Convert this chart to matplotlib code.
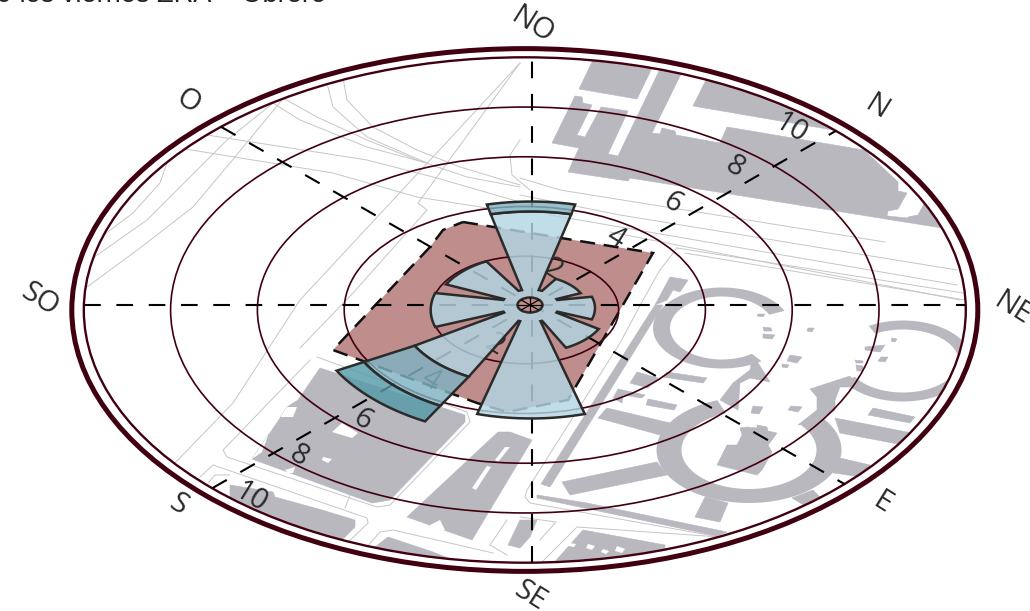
import numpy as np
import matplotlib
matplotlib.use('Agg')
import matplotlib.pyplot as plt
from matplotlib.colors import to_rgba
from matplotlib.patches import Polygon, Ellipse

# -----------------
#    Wind rose data
# -----------------
directions = ['NO', 'N', 'NE', 'E', 'SE', 'S', 'SO', 'O']
calm_limit = 0.50
band_low = [3.80, 1.13, 1.32, 1.60, 4.20, 2.88, 2.15, 2.05]
band_mid = [0.40, 0.00, 0.00, 0.00, 0.00, 1.34, 0.00, 0.00]
band_high = [0.00, 0.00, 0.00, 0.00, 0.00, 0.72, 0.00, 0.00]
ring_values = [2, 4, 6, 8, 10]
tick_text = ['2', '4', '6', '8', '10']

title_text = '9 los viernes ZRA -  Obrero'
dir_label_xy = [(532, 25), (876, 107), (1012, 309), (882, 503),
                (530, 596), (178, 505), (40, 300), (188, 102)]
tick_xy_up = [(553, 270), (615, 238), (672, 203), (735, 167), (790, 128)]
tick_xy_down = [(495, 345), (430, 380), (362, 420), (299, 456), (250, 497)]

# ellipse that a flat circle turns into
ring_cx, ring_cy = 524.8, 310.0
petal_cx, petal_cy = 531.0, 310.0
hub_cx, hub_cy = 530.0, 304.0
squash = 0.573
spoke_cx, spoke_cy = 532.0, 305.0
petal_narrow = [0.82, 1, 1, 1, 1, 1, 1, 1]


def speed_to_r(v):
    return 7 + 43.4 * np.asarray(v, dtype=float)


def petal_arc(centre, v, narrow, reverse=False):
    # one edge of a petal, the petal gets wider a bit slower than a true sector
    r = float(speed_to_r(v))
    half = np.arcsin(min((0.272 * r + 2.35) / r * narrow, 0.9))
    th = np.linspace(centre - half, centre + half, 50)
    if reverse:
        th = th[::-1]
    w = min(r / 94.0, 1.0)
    cx = hub_cx + (petal_cx - hub_cx) * w
    cy = hub_cy + (petal_cy - hub_cy) * w
    return np.column_stack([cx + r * np.sin(th), cy - squash * r * np.cos(th)])


# -----------------
#    Map background
# -----------------
grey = '#bab8bf'
buildings = [
    [(593, 60), (652, 68), (637, 99), (579, 89)],
    [(575, 96), (582, 97), (583, 103), (592, 105), (577, 135), (585, 137), (601, 107), (628, 111),
     (608, 154), (618, 156), (660, 69), (681, 74), (652, 133), (660, 134), (662, 128), (675, 131),
     (676, 135), (720, 143), (727, 127), (864, 150), (898, 182), (898, 191), (907, 193), (898, 209),
     (888, 211), (887, 216), (908, 218), (908, 217), (918, 215), (924, 204), (942, 228), (630, 178),
     (628, 181), (568, 172), (579, 148), (552, 143)],
    [(707, 78), (760, 80), (860, 133), (833, 130), (693, 106)],
    [(670, 277), (688, 280), (680, 292), (673, 290), (667, 300), (655, 305)],
    [(655, 305), (663, 305), (550, 487), (541, 484)],
    [(537, 495), (587, 503), (727, 532), (717, 536), (537, 498)],
    [(598, 418), (607, 408), (670, 423), (660, 435)],
    [(562, 482), (657, 462), (667, 475), (570, 495)],
    [(705, 497), (728, 503), (720, 522), (695, 517)],
    [(792, 498), (813, 490), (820, 497), (807, 507)],
    [(840, 458), (870, 465), (860, 477), (828, 472)],
    [(835, 418), (912, 433), (903, 445), (840, 433)],
    [(810, 389), (850, 376), (857, 387), (840, 387), (835, 400), (835, 410), (817, 423), (798, 425),
     (817, 410), (817, 397)],
    [(753, 355), (770, 382), (750, 378), (740, 383), (738, 410), (720, 400), (733, 383), (750, 370)],
    [(740, 428), (747, 427), (757, 428), (757, 425), (767, 427), (768, 431), (777, 433), (772, 440),
     (768, 445), (772, 452), (762, 470), (757, 475), (717, 465), (727, 445), (737, 445), (742, 435)],
    [(637, 372), (658, 378), (648, 388), (630, 383)],
    [(667, 372), (707, 378), (703, 383), (663, 377)],
    [(618, 389), (645, 395), (642, 398), (623, 395), (622, 403), (613, 398)],
    [(648, 399), (677, 405), (674, 410), (646, 405)],
    [(873, 408), (915, 417), (910, 423), (868, 415)],
    [(753, 406), (763, 407), (759, 414), (751, 413)],
    [(791, 406), (802, 407), (798, 412), (788, 410)],
    [(790, 355), (802, 357), (797, 363), (787, 361)],
    [(782, 364), (789, 365), (787, 368), (782, 367)],
    [(763, 327), (771, 328), (772, 331), (764, 331)],
    [(763, 334), (775, 335), (772, 339), (763, 338)],
    [(758, 314), (765, 314), (763, 317), (757, 316)],
    [(808, 328), (814, 328), (812, 332), (807, 331)],
    [(865, 347), (885, 345), (880, 352), (865, 350)],
    [(881, 357), (888, 357), (885, 362), (878, 361)],
    [(855, 360), (863, 361), (863, 363), (856, 363)],
    [(856, 365), (863, 366), (863, 371), (857, 371)],
    [(892, 338), (897, 339), (895, 342), (891, 341)],
    [(552, 565), (583, 530), (665, 545), (665, 575), (552, 575)],
    [(407, 517), (498, 432), (510, 432), (532, 440), (472, 540)],
    [(508, 545), (520, 520), (537, 520), (530, 537), (520, 548)],
    [(320, 368), (465, 415), (465, 422), (390, 500), (372, 503), (252, 459), (287, 407), (298, 400)],
    [(230, 485), (273, 492), (275, 497), (322, 510), (355, 520), (355, 527), (342, 540), (303, 530),
     (230, 497)],
    [(375, 547), (388, 537), (433, 552), (453, 560), (430, 570)],
]
map_holes = [
    [(287, 407), (297, 407), (293, 417), (275, 417), (262, 452), (252, 459)],
    [(332, 432), (342, 423), (358, 433), (352, 438)],
    [(323, 457), (332, 459), (328, 463), (322, 460)],
    [(285, 470), (295, 467), (293, 473), (288, 473)],
    [(570, 543), (576, 544), (574, 547), (568, 546)],
    [(588, 544), (595, 546), (592, 550), (586, 548)],
    [(603, 549), (609, 551), (606, 554), (601, 552)],
    [(617, 546), (625, 549), (622, 553), (615, 551)],
    [(505, 447), (510, 447), (498, 462), (495, 460)],
    [(487, 466), (491, 467), (476, 490), (472, 488)],
    [(430, 525), (440, 520), (445, 530), (435, 532)],
]
# streets, kerbs, roof edges
map_lines = [
    [(87, 287), (140, 248), (193, 207), (230, 163), (282, 100)],
    [(93, 258), (147, 220), (197, 170), (227, 140), (277, 100)],
    [(93, 243), (133, 213), (160, 183), (167, 163), (160, 157)],
    [(207, 135), (367, 160), (433, 177), (520, 202)],
    [(185, 149), (333, 173), (417, 197), (487, 208)],
    [(273, 103), (300, 120), (367, 147), (427, 163)],
    [(283, 98), (317, 117), (367, 140), (417, 160), (467, 177), (520, 187)],
    [(327, 83), (333, 107), (367, 137), (427, 163)],
    [(343, 78), (347, 100), (373, 127), (417, 150), (460, 167), (520, 185)],
    [(175, 463), (233, 403), (300, 300), (433, 157), (520, 63)],
    [(520, 63), (418, 203), (427, 210), (353, 293), (300, 348)],
    [(520, 178), (560, 190), (885, 242)],
    [(520, 195), (620, 215), (957, 270)],
    [(550, 215), (957, 285)],
    [(610, 232), (960, 300)],
    [(677, 248), (963, 293)],
    [(685, 253), (965, 300)],
    [(677, 248), (660, 270), (643, 300), (620, 343), (527, 490), (525, 497), (530, 503), (720, 537)],
    [(317, 357), (467, 412), (470, 422), (390, 505), (377, 507), (227, 457), (223, 450), (310, 360)],
    [(200, 477), (213, 465), (367, 518), (368, 523), (343, 547)],
    [(208, 483), (215, 475), (230, 475)],
    [(367, 547), (380, 532), (393, 530), (493, 553)],
    [(542, 562), (577, 527), (720, 537)],
    [(507, 555), (490, 545), (507, 520)],
    [(520, 517), (556, 522), (540, 540)],
    [(300, 420), (380, 445), (345, 482), (352, 490), (345, 508)],
    [(520, 140), (510, 155), (512, 175), (530, 190)],
    [(357, 420), (388, 432), (407, 423), (388, 412)],
    [(300, 443), (320, 437), (345, 447)],
]


def annulus(cx, cy, rx, ry, wx, wy, t0, t1):
    t = np.radians(np.linspace(t0, t1, 90))
    outer = np.column_stack([cx + (rx + wx / 2) * np.cos(t), cy + (ry + wy / 2) * np.sin(t)])
    inner = np.column_stack([cx + (rx - wx / 2) * np.cos(t), cy + (ry - wy / 2) * np.sin(t)])
    return np.vstack([outer, inner[::-1]])


fig = plt.figure(figsize=(10.3, 6.11), dpi=100)
ax = fig.add_axes([0, 0, 1, 1])
ax.set_xlim(0, 1030)
ax.set_ylim(611, 0)
ax.axis('off')

ring_r = speed_to_r(ring_values)
clip = Ellipse((ring_cx, ring_cy), 2 * ring_r[-1], 2 * squash * ring_r[-1], transform=ax.transData,
               facecolor='none', edgecolor='none')
ax.add_patch(clip)

for pts in map_lines:
    pts = np.array(pts)
    ln, = ax.plot(pts[:, 0], pts[:, 1], color='#c6c6c6', lw=0.7, zorder=1)
    ln.set_clip_path(clip)
for pts in buildings:
    p = Polygon(pts, facecolor=grey, edgecolor='#b4b6c8', lw=0.4, zorder=2)
    ax.add_patch(p)
    p.set_clip_path(clip)
for ring in [annulus(722, 328, 60.5, 36, 17, 9, 55, 335), annulus(903, 361, 62, 36, 13, 9, -120, 150),
             annulus(749, 450, 80, 46, 25, 14, -40, 250)]:
    p = Polygon(ring, facecolor=grey, edgecolor='none', zorder=2)
    ax.add_patch(p)
    p.set_clip_path(clip)
for pts in map_holes:
    p = Polygon(pts, facecolor='white', edgecolor='none', zorder=3)
    ax.add_patch(p)
    p.set_clip_path(clip)

# red building with the dashed outline
site = [(463, 222), (653, 253), (568, 400), (507, 412), (477, 403), (333, 350), (430, 247), (443, 230)]
ax.add_patch(Polygon(site, closed=True, facecolor='#bf8d8c', edgecolor='none', zorder=4))
ax.add_patch(Polygon(site, closed=True, facecolor='none', edgecolor='#111111', lw=1.8, zorder=4.2,
                     linestyle=(0, (6, 3.5))))

# -----------------
#   Grid
# -----------------
for r, lw in zip(ring_r, [1.2, 1.2, 1.2, 1.2, 1.7]):
    ax.add_patch(Ellipse((ring_cx, ring_cy), 2 * r, 2 * squash * r, fill=False,
                         edgecolor='#41000f', lw=lw, zorder=5))
ax.add_patch(Ellipse((ring_cx, ring_cy), 2 * 453, 2 * 0.577 * 453, fill=False,
                     edgecolor='#41000f', lw=3.6, zorder=5))

t = np.linspace(-620, 620, 5001)
for a in np.radians([0, 45, 90, 135]):
    x = spoke_cx + t * np.sin(a)
    y = spoke_cy - squash * t * np.round(np.cos(a), 6)
    keep = ((x - ring_cx) / ring_r[-1]) ** 2 + ((y - ring_cy) / (squash * ring_r[-1])) ** 2 <= 1
    ax.plot(x[keep], y[keep], color='black', lw=1.5, zorder=6, solid_capstyle='butt',
            linestyle=(0, (8, 7.5)))

# -----------------
#   Labels
# -----------------
txt = dict(family='Open Sans', color='#2b2b2b', rotation=-32, ha='center', va='center',
           rotation_mode='anchor', zorder=7)
for name, (x, y) in zip(directions, dir_label_xy):
    ax.text(x, y, name, fontsize=21, **txt)
for xy_list in [tick_xy_up, tick_xy_down]:
    for name, (x, y) in zip(tick_text, xy_list):
        ax.text(x, y, name, fontsize=21, **txt)
ax.text(-3, 2.5, title_text, family='Liberation Sans', fontsize=19.5, color='#222222', va='baseline')

# -----------------
#   Rose petals
# -----------------
band_colors = ['#b2d6e4', '#80b2c2', '#569aa8']
centres = np.radians(np.arange(len(directions)) * 45.0)

# lowest band is one flower shape, the petals run together around the hub
flower = []
for c, v1, narrow in zip(centres, band_low, petal_narrow):
    inner = petal_arc(c, calm_limit, narrow)
    flower.extend([inner[0]])
    flower.extend(petal_arc(c, v1, narrow))
    flower.extend([inner[-1]])
ax.add_patch(Polygon(np.array(flower), closed=True, facecolor=to_rgba(band_colors[0], 0.82),
                     edgecolor='#2b2b2b', lw=1.8, joinstyle='miter', zorder=8))

band_top = np.array(band_low, dtype=float)
for values, col in zip([band_mid, band_high], band_colors[1:]):
    band_base = band_top.copy()
    band_top = band_base + np.array(values)
    for c, v0, v1, narrow in zip(centres, band_base, band_top, petal_narrow):
        if v1 <= v0:
            continue
        outer = petal_arc(c, v1, narrow)
        inner = petal_arc(c, v0, narrow, reverse=True)
        ax.add_patch(Polygon(np.vstack([outer, inner]), closed=True, facecolor=to_rgba(col, 0.82),
                             edgecolor='#2b2b2b', lw=1.8, joinstyle='miter', zorder=8))

hub = Ellipse((hub_cx, hub_cy + 1), 25, 15, facecolor='#bf8d8c', edgecolor='#2b2b2b', lw=1.8, zorder=9)
ax.add_patch(hub)
for dx, dy in [(0, 1), (1, 0), (1, 0.577), (1, -0.577)]:
    ln, = ax.plot([hub_cx - 20 * dx, hub_cx + 20 * dx], [hub_cy + 1 - 20 * dy, hub_cy + 1 + 20 * dy],
                  color='black', lw=0.9, zorder=9.5)
    ln.set_clip_path(hub)

fig.savefig('out.png', dpi=100, facecolor='white')
